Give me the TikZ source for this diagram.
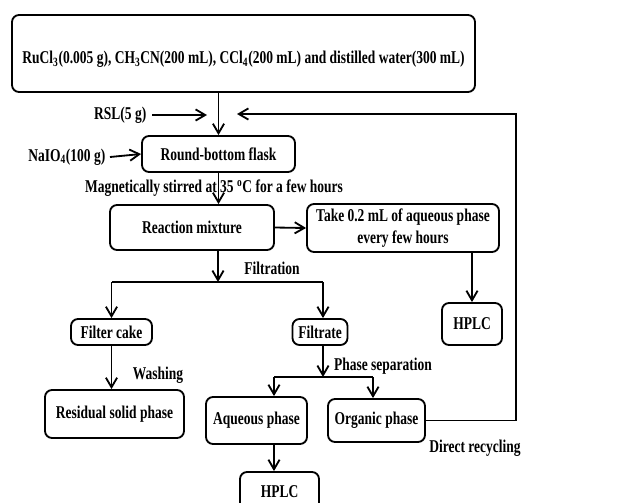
\documentclass[tikz,border=0pt]{standalone}
\usepackage{fontspec}
\setmainfont{Liberation Serif}[FakeStretch=0.75]
\usetikzlibrary{arrows.meta,positioning,calc}
\tikzset{
  >={Straight Barb[length=2.4mm,width=2.8mm]},
  box/.style 2 args={draw,rounded corners=5pt,line width=1.3pt,
    minimum width=#1*0.025cm,minimum height=#2*0.025cm,align=center,inner sep=0pt},
  flow/.style={->,line width=1.3pt},
  line/.style={line width=1.3pt},
  tag/.style={inner sep=1pt},
}

\begin{document}
\begin{tikzpicture}[x=0.025cm,y=-0.025cm,font=\fontsize{12.8}{16}\selectfont\bfseries]
  \clip (0,0) rectangle (627,502);
  \useasboundingbox (0,0) rectangle (627,502);
  % boxes
  \node[box={463}{77},text height=17pt] (top) at (243.5,53.5)
    {RuCl\textsubscript{3}(0.005 g), CH\textsubscript{3}CN(200 mL), CCl\textsubscript{4}(200 mL) and distilled water(300 mL)};
  \node[box={153}{36}] (flask) at (218.5,154) {Round-bottom flask};
  \node[box={164}{45}] (reaction) at (192,227.5) {Reaction mixture};
  \node[box={192}{48}] (sample) at (403,228) {Take 0.2 mL of aqueous phase\\every few hours};
  \node[box={60}{42}] (hplcA) at (472,324) {HPLC};
  \node[box={81}{26}] (cake) at (111.5,332) {Filter cake};
  \node[box={55}{26}] (filtrate) at (320,332) {Filtrate};
  \node[box={139}{48}] (residual) at (114.5,414) {Residual solid phase};
  \node[box={101}{47}] (aqueous) at (256.5,420.5) {Aqueous phase};
  \node[box={97}{43}] (organic) at (376.5,420.5) {Organic phase};
  \node[box={79}{40}] (hplcB) at (279.5,492) {HPLC};
  % feeds and labels
  \node[tag,anchor=east] (rsl) at (148,115) {RSL(5 g)};
  \node[tag,anchor=east] (naio) at (107,157) {NaIO\textsubscript{4}(100 g)};
  \node[tag] (stir) at (214,188) {Magnetically stirred at 35 \textsuperscript{o}C for a few hours};
  \node[tag] (filt) at (272,268) {Filtration};
  \node[tag] (wash) at (158,375) {Washing};
  \node[tag] (psep) at (383,366) {Phase separation};
  \node[tag] (direct) at (475,448) {Direct recycling};
  \coordinate (rslend) at (207,115);
  \coordinate (fbend) at (237,114);
  \coordinate (fbcorner) at (516,114);
  \coordinate (j1) at (218,282);
  \coordinate (j2) at (323,377);
  \coordinate (aqin) at (274,377);
  \coordinate (orgin) at (373,377);
  % connectors
  \draw[flow] (top.south -| flask) -- (flask.north);
  \draw[flow] (rsl.east) ++(4,0) -- (rslend);
  \draw[flow] (naio.east) ++(3,0) -- (flask.west);
  \draw[flow] (flask.south) -- (flask.south |- reaction.north);
  \draw[flow] (reaction.east) -- (sample.west);
  \draw[flow] (sample.south -| hplcA) -- (hplcA.north);
  \draw[flow] (reaction.south -| j1) -- (j1);
  \draw[line] (j1) -- (j1 -| cake);
  \draw[line] (j1) -- (j1 -| j2);
  \draw[flow] (j1 -| cake) -- (cake.north);
  \draw[flow] (j1 -| j2) -- (filtrate.north -| j2);
  \draw[flow] (cake.south) -- (residual.north -| cake);
  \draw[flow] (filtrate.south -| j2) -- (j2);
  \draw[line] (aqin) -- (orgin);
  \draw[flow] (aqin) -- (aqueous.north -| aqin);
  \draw[flow] (orgin) -- (organic.north -| orgin);
  \draw[flow] (aqueous.south -| aqin) -- (hplcB.north -| aqin);
  \draw[flow] (organic.east) -- (organic.east -| fbcorner) -- (fbcorner) -- (fbend);
\end{tikzpicture}
\end{document}
